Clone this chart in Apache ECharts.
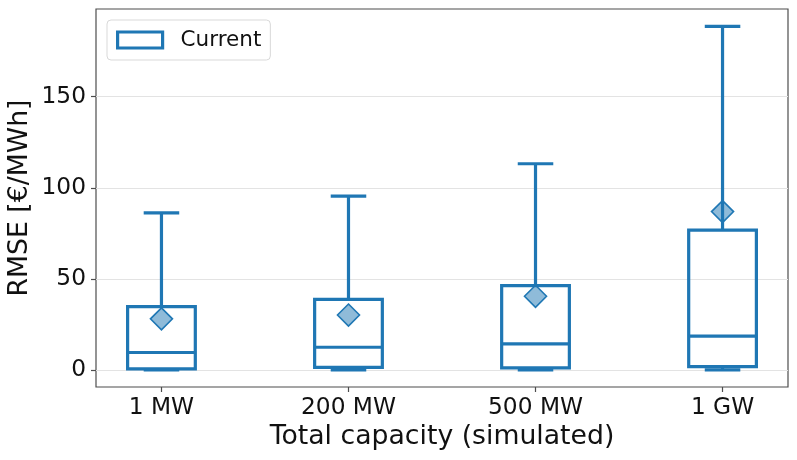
<!DOCTYPE html>
<html>
<head>
<meta charset="utf-8">
<script src="https://cdn.jsdelivr.net/npm/echarts@6/dist/echarts.min.js"></script>
<style>html,body{margin:0;padding:0;background:#fff;}#c{width:797px;height:460px;}</style>
</head>
<body>
<div id="c"></div>
<script>
const categories = ['1 MW', '200 MW', '500 MW', '1 GW'];
const whiskerLow = [0, 0, 0, 0];
const q1 = [0.5, 1.3, 1.1, 1.8];
const median = [9.5, 12.4, 14.2, 18.5];
const q3 = [34.7, 38.7, 46.2, 76.7];
const whiskerHigh = [86.2, 95.4, 113.2, 188.7];
const mean = [28.0, 30.1, 40.4, 86.9];
const yTicks = [0, 50, 100, 150];

const C0 = '#1f77b4';
const FONT = 'DejaVu Sans';

const seriesData = categories.map((c, i) => [i, whiskerLow[i], q1[i], median[i], q3[i], whiskerHigh[i], mean[i]]);

function renderItem(params, api) {
  const x = api.value(0);
  const lo = api.value(1), a = api.value(2), m = api.value(3), b = api.value(4), hi = api.value(5), mu = api.value(6);
  const boxW = api.size([0.362, 0])[0];
  const capW = api.size([0.19, 0])[0];
  const pLo = api.coord([x, lo]), pA = api.coord([x, a]), pM = api.coord([x, m]), pB = api.coord([x, b]), pHi = api.coord([x, hi]), pMu = api.coord([x, mu]);
  const cx = pA[0];
  const lw = 3.2;
  const ls = { stroke: C0, lineWidth: lw, fill: null };
  const d = 11;
  return {
    type: 'group',
    children: [
      { type: 'line', shape: { x1: cx, y1: pB[1], x2: cx, y2: pHi[1] }, style: ls },
      { type: 'line', shape: { x1: cx, y1: pA[1], x2: cx, y2: pLo[1] }, style: ls },
      { type: 'line', shape: { x1: cx - capW / 2, y1: pHi[1], x2: cx + capW / 2, y2: pHi[1] }, style: ls },
      { type: 'line', shape: { x1: cx - capW / 2, y1: pLo[1], x2: cx + capW / 2, y2: pLo[1] }, style: ls },
      { type: 'rect', shape: { x: cx - boxW / 2, y: pB[1], width: boxW, height: pA[1] - pB[1] }, style: { stroke: C0, lineWidth: lw, fill: null, lineJoin: 'miter' } },
      { type: 'line', shape: { x1: cx - boxW / 2, y1: pM[1], x2: cx + boxW / 2, y2: pM[1] }, style: ls },
      { type: 'polygon', shape: { points: [[pMu[0], pMu[1] - d], [pMu[0] + d, pMu[1]], [pMu[0], pMu[1] + d], [pMu[0] - d, pMu[1]]] },
        style: { fill: 'rgba(31,119,180,0.5)', stroke: C0, lineWidth: 1.6 } }
    ]
  };
}

const chart = echarts.init(document.getElementById('c'), null, { renderer: 'canvas' });
chart.setOption({
  animation: false,
  backgroundColor: '#fff',
  grid: { left: 96, top: 9, right: 9, bottom: 73, show: true, borderColor: '#4d4d4d', borderWidth: 1.2, backgroundColor: 'transparent', outerBoundsMode: 'none', containLabel: false },
  legend: {
    left: 107, top: 20,
    orient: 'horizontal',
    data: [{ name: 'Current', icon: 'rect', itemStyle: { color: '#fff', borderColor: C0, borderWidth: 3.2 } }],
    itemWidth: 45, itemHeight: 16,
    backgroundColor: 'rgba(255,255,255,0.8)',
    borderColor: '#d9d9d9', borderWidth: 1, borderRadius: 4,
    padding: [9, 9, 9, 9],
    textStyle: { fontFamily: FONT, fontSize: 21.5, color: '#111', lineHeight: 21, padding: [0, 0, 0, 13] }
  },
  xAxis: {
    type: 'value', min: -0.35, max: 3.35,
    name: 'Total capacity (simulated)', nameLocation: 'middle', nameGap: 37, nameMoveOverlap: false,
    nameTextStyle: { fontFamily: FONT, fontSize: 26.7, color: '#111' },
    axisLine: { show: false, onZero: false },
    axisTick: { show: true, length: 5, lineStyle: { color: '#4d4d4d', width: 1.2 }, customValues: [0, 1, 2, 3] },
    axisLabel: { fontFamily: FONT, fontSize: 23.3, color: '#111', margin: 9, customValues: [0, 1, 2, 3],
      formatter: v => categories[Math.round(v)] },
    splitLine: { show: false }
  },
  yAxis: {
    type: 'value', min: -9.44, max: 198.2,
    name: 'RMSE [€/MWh]', nameLocation: 'middle', nameGap: 62, nameMoveOverlap: false,
    nameTextStyle: { fontFamily: FONT, fontSize: 26.7, color: '#111' },
    axisLine: { show: false, onZero: false },
    axisTick: { show: true, length: 5, lineStyle: { color: '#4d4d4d', width: 1.2 }, customValues: yTicks },
    axisLabel: { fontFamily: FONT, fontSize: 23.3, color: '#111', margin: 10, customValues: yTicks },
    splitLine: { show: true, lineStyle: { color: '#e3e3e3', width: 1 } }
  },
  series: [{
    name: 'Current',
    type: 'custom',
    renderItem: renderItem,
    encode: { x: 0, y: [1, 2, 3, 4, 5, 6] },
    data: seriesData,
    itemStyle: { color: C0 }
  }]
});
</script>
</body>
</html>
